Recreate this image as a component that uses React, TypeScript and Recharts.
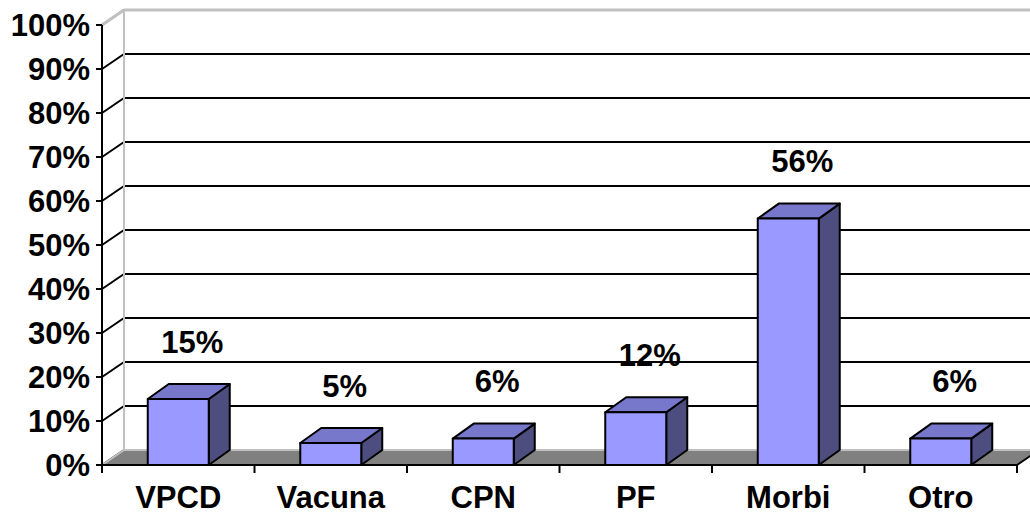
import { BarChart, Bar, XAxis, YAxis, CartesianGrid, ReferenceArea, LabelList } from 'recharts';

const categories = ['VPCD', 'Vacuna', 'CPN', 'PF', 'Morbi', 'Otro'];
const percentages = [15, 5, 6, 12, 56, 6];
const yTicks = [0, 10, 20, 30, 40, 50, 60, 70, 80, 90, 100];

const data = categories.map((name, i) => ({ name, value: percentages[i] }));

// chart frame
const WIDTH = 1030;
const HEIGHT = 516;
const MARGIN = { top: 25, right: 13, bottom: 0, left: 0 };
const Y_AXIS_W = 102;
const BAND = (WIDTH - MARGIN.left - MARGIN.right - Y_AXIS_W) / categories.length;

// 3D depth offsets
const WALL_DX = 22;
const WALL_DY = -15;
const BAR_DX = 21;
const BAR_DY = -15;

const FONT = '"Liberation Sans", Arial, sans-serif';

// gridline: diagonal from the front axis to the back wall, then across the wall
const GridLine = (p: any) => (
  <g key={p.key}>
    <line x1={p.x1} y1={p.y1} x2={p.x1 + WALL_DX} y2={p.y1 + WALL_DY} stroke="#000" strokeWidth={2} />
    <line x1={p.x1 + WALL_DX} y1={p.y1 + WALL_DY} x2={p.x2 + WALL_DX} y2={p.y1 + WALL_DY} stroke="#000" strokeWidth={2} />
  </g>
);

// back wall edges and floor
const Walls = (p: any) => {
  const { x, y, width: w, height: h } = p;
  const b = y + h;
  return (
    <g>
      <polygon
        points={`${x},${b} ${x + w},${b} ${x + w + WALL_DX},${b + WALL_DY} ${x + WALL_DX},${b + WALL_DY}`}
        fill="#808080"
        stroke="none"
      />
      <line x1={x} y1={b} x2={x + WALL_DX} y2={b + WALL_DY} stroke="#c0c0c0" strokeWidth={2} />
      <line x1={x + WALL_DX} y1={b + WALL_DY} x2={x + w + WALL_DX} y2={b + WALL_DY} stroke="#c0c0c0" strokeWidth={2} />
      <line x1={x + w} y1={b} x2={x + w + WALL_DX} y2={b + WALL_DY} stroke="#000" strokeWidth={2} />
      <line x1={x + WALL_DX} y1={y + WALL_DY} x2={x + WALL_DX} y2={b + WALL_DY} stroke="#c0c0c0" strokeWidth={2} />
      <line x1={x} y1={y} x2={x + WALL_DX} y2={y + WALL_DY} stroke="#c0c0c0" strokeWidth={3} />
      <line x1={x + WALL_DX} y1={y + WALL_DY} x2={x + w + WALL_DX} y2={y + WALL_DY} stroke="#c0c0c0" strokeWidth={3} />
    </g>
  );
};

const Bar3D = (p: any) => {
  const { x, y, width: w, height: h } = p;
  const top = `${x},${y} ${x + BAR_DX},${y + BAR_DY} ${x + w + BAR_DX},${y + BAR_DY} ${x + w},${y}`;
  const side = `${x + w},${y} ${x + w + BAR_DX},${y + BAR_DY} ${x + w + BAR_DX},${y + h + BAR_DY} ${x + w},${y + h}`;
  return (
    <g stroke="#000" strokeWidth={2} strokeLinejoin="round">
      <polygon points={side} fill="#4d4d80" />
      <polygon points={top} fill="#7777cc" />
      <rect x={x} y={y} width={w} height={h} fill="#9999ff" />
    </g>
  );
};

const ValueLabel = (p: any) => (
  <text
    x={p.x + p.width / 2 + 14}
    y={p.y - 57}
    textAnchor="middle"
    dominantBaseline="central"
    fontFamily={FONT}
    fontWeight="bold"
    fontSize={31}
    fill="#000"
  >
    {`${p.value}%`}
  </text>
);

const CategoryTick = (p: any) => {
  const { x, y, payload, index } = p;
  return (
    <g>
      <line x1={x - BAND / 2} y1={y} x2={x - BAND / 2} y2={y + 8} stroke="#000" strokeWidth={2} />
      {index === categories.length - 1 && (
        <line x1={x + BAND / 2} y1={y} x2={x + BAND / 2} y2={y + 8} stroke="#000" strokeWidth={2} />
      )}
      <text x={x} y={y + 43} textAnchor="middle" fontFamily={FONT} fontWeight="bold" fontSize={31} fill="#000">
        {payload.value}
      </text>
    </g>
  );
};

export default function App() {
  return (
    <div style={{ position: 'absolute', left: 0, top: 0, width: WIDTH, height: HEIGHT, background: '#fff', overflow: 'hidden' }}>
      <BarChart width={WIDTH} height={HEIGHT} data={data} margin={MARGIN} barCategoryGap="30%">
        <CartesianGrid vertical={false} horizontal={GridLine} />
        <ReferenceArea y1={0} y2={100} shape={Walls} ifOverflow="visible" />
        <XAxis
          dataKey="name"
          interval={0}
          height={51}
          tickLine={false}
          tickSize={0}
          tickMargin={0}
          axisLine={{ stroke: '#000', strokeWidth: 2 }}
          tick={CategoryTick}
        />
        <YAxis
          width={Y_AXIS_W}
          domain={[0, 100]}
          ticks={yTicks}
          interval={0}
          tickFormatter={(v: number) => `${v}%`}
          axisLine={{ stroke: '#000', strokeWidth: 2 }}
          tickLine={{ stroke: '#000', strokeWidth: 2 }}
          tickSize={6}
          tickMargin={6}
          tick={{ fontFamily: FONT, fontWeight: 'bold', fontSize: 31, fill: '#000' }}
        />
        <Bar dataKey="value" shape={Bar3D} isAnimationActive={false}>
          <LabelList dataKey="value" content={ValueLabel} />
        </Bar>
      </BarChart>
    </div>
  );
}
